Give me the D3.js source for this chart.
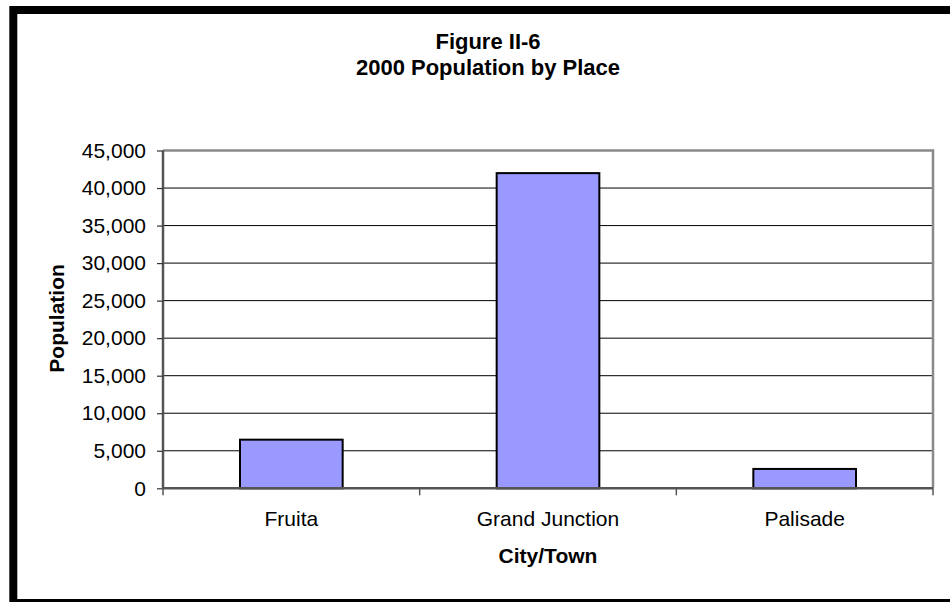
<!DOCTYPE html>
<html>
<head>
<meta charset="utf-8">
<script src="https://cdn.jsdelivr.net/npm/d3@7"></script>
<style>
  html, body { margin: 0; padding: 0; background: #fff; }
  svg { display: block; font-family: Arial, "Liberation Sans", sans-serif; }
</style>
</head>
<body>
<svg id="chart" width="950" height="602"></svg>
<script>
// 2000 census population for the three incorporated places
const places = ["Fruita", "Grand Junction", "Palisade"];
const population = [6478, 41986, 2579];
const yTicks = [0, 5000, 10000, 15000, 20000, 25000, 30000, 35000, 40000, 45000];
const titleLines = ["Figure II-6", "2000 Population by Place"];
const xTitle = "City/Town";
const yTitle = "Population";

const svg = d3.select("#chart");
const plot = { left: 163, top: 150.5, right: 933, bottom: 488.3 };

// outer frame of the chart
svg.append("rect")
  .attr("x", 13.3).attr("y", 10)
  .attr("width", 950).attr("height", 593)
  .attr("fill", "#fff")
  .attr("stroke", "#000").attr("stroke-width", 8);

const x = d3.scaleBand()
  .domain(places)
  .range([plot.left, plot.right])
  .paddingInner(0.6).paddingOuter(0.3);

const y = d3.scaleLinear()
  .domain([0, 45000])
  .range([plot.bottom, plot.top]);

// horizontal gridlines
svg.append("g")
  .selectAll("line")
  .data(yTicks.filter(d => d > 0 && d < 45000))
  .join("line")
  .attr("x1", plot.left).attr("x2", plot.right)
  .attr("y1", d => y(d)).attr("y2", d => y(d))
  .attr("stroke", "#000").attr("stroke-width", 1);

// plot area border (top and right)
svg.append("path")
  .attr("d", `M${plot.left},${plot.top}H${plot.right}V${plot.bottom}`)
  .attr("fill", "none")
  .attr("stroke", "#8a8a8a").attr("stroke-width", 2.5);

// bars
svg.append("g")
  .selectAll("rect")
  .data(places)
  .join("rect")
  .attr("x", d => x(d))
  .attr("y", (d, i) => y(population[i]))
  .attr("width", x.bandwidth())
  .attr("height", (d, i) => y(0) - y(population[i]))
  .attr("fill", "#9999FF")
  .attr("stroke", "#000").attr("stroke-width", 2);

// y axis
const yAxis = d3.axisLeft(y)
  .tickValues(yTicks)
  .tickFormat(d3.format(","))
  .tickSize(6).tickPadding(11);
const gy = svg.append("g")
  .attr("transform", `translate(${plot.left},0)`)
  .call(yAxis);
gy.select(".domain").attr("stroke", "#555").attr("stroke-width", 2.5)
  .attr("d", `M0,${plot.top}V${plot.bottom}`);
gy.selectAll(".tick line").attr("stroke", "#333").attr("stroke-width", 1.2);
gy.selectAll(".tick text")
  .attr("font-size", 21).attr("fill", "#000")
  .attr("font-family", "Arial, 'Liberation Sans', sans-serif");

// x axis: ticks sit on the category boundaries
const boundaries = d3.range(places.length + 1)
  .map(i => plot.left + i * (plot.right - plot.left) / places.length);
const gx = svg.append("g");
gx.append("line")
  .attr("x1", plot.left).attr("x2", plot.right)
  .attr("y1", plot.bottom).attr("y2", plot.bottom)
  .attr("stroke", "#555").attr("stroke-width", 2.5);
gx.selectAll("line.tick")
  .data(boundaries)
  .join("line")
  .attr("class", "tick")
  .attr("x1", d => d).attr("x2", d => d)
  .attr("y1", plot.bottom).attr("y2", plot.bottom + 7)
  .attr("stroke", "#555").attr("stroke-width", 1.5);
gx.selectAll("text")
  .data(places)
  .join("text")
  .attr("x", d => x(d) + x.bandwidth() / 2)
  .attr("y", 526)
  .attr("text-anchor", "middle")
  .attr("font-size", 21)
  .text(d => d);

// axis titles
svg.append("text")
  .attr("x", (plot.left + plot.right) / 2)
  .attr("y", 563)
  .attr("text-anchor", "middle")
  .attr("font-size", 21).attr("font-weight", "bold")
  .text(xTitle);

svg.append("text")
  .attr("transform", `translate(64,${(plot.top + plot.bottom) / 2 - 1}) rotate(-90)`)
  .attr("text-anchor", "middle")
  .attr("font-size", 21).attr("font-weight", "bold")
  .text(yTitle);

// chart title
svg.append("g")
  .selectAll("text")
  .data(titleLines)
  .join("text")
  .attr("x", 488)
  .attr("y", (d, i) => 49 + i * 26)
  .attr("text-anchor", "middle")
  .attr("font-size", 22).attr("font-weight", "bold")
  .text(d => d);
</script>
</body>
</html>
